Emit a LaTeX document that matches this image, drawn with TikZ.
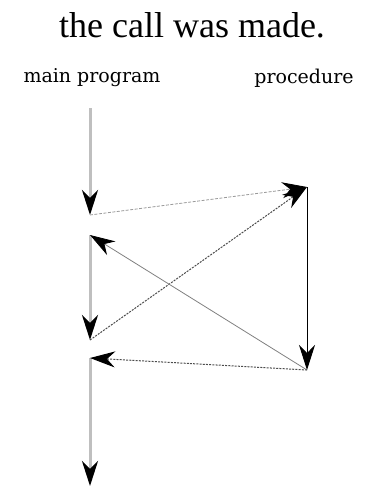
\documentclass[tikz,border=0pt]{standalone}
\usepackage{fontspec}
\setmainfont{Liberation Serif}
\newfontfamily\lblfont{DejaVu Serif}
\usetikzlibrary{arrows.meta}
\begin{document}
\begin{tikzpicture}[x=1pt,y=-1pt,
  tip/.style={-{Stealth[length=25pt,width=16pt,inset=8pt,color=black]}},
  mainline/.style={line width=3pt,draw=black!25,tip},
  procline/.style={line width=0.9pt,draw=black,tip},
  callline/.style={line width=0.8pt,draw=black!40,dash pattern=on 3pt off 1.5pt,tip},
  retline/.style={line width=0.8pt,draw=black!50,tip},
  dotline/.style={line width=1pt,draw=black!70,dash pattern=on 2pt off 1.2pt,tip},
  lbl/.style={font=\lblfont\fontsize{19}{22}\selectfont,inner sep=0pt}]
\useasboundingbox (0,0) rectangle (369,498);
\node[font=\fontsize{36}{40}\selectfont,inner sep=0pt] (title) at (192,25) {the call was made.};
\node[lbl] (mp) at (92,78) {main program};
\node[lbl] (pr) at (304,78) {procedure};
\coordinate (m0) at (90,108);
\coordinate (m1) at (90,215);
\coordinate (m2) at (90,235);
\coordinate (m3) at (90,340);
\coordinate (m4) at (90,358);
\coordinate (m5) at (90,486);
\coordinate (p0) at (307,187);
\coordinate (p1) at (307,370);
\draw[mainline] (m0) -- (m1);
\draw[mainline] (m2) -- (m3);
\draw[mainline] (m4) -- (m5);
\draw[procline] (p0) -- (p1);
\draw[callline] (m1) -- (p0);
\draw[dotline] (m3) -- (p0);
\draw[retline] (p1) -- (m2);
\draw[dotline] (p1) -- (m4);
\end{tikzpicture}
\end{document}
